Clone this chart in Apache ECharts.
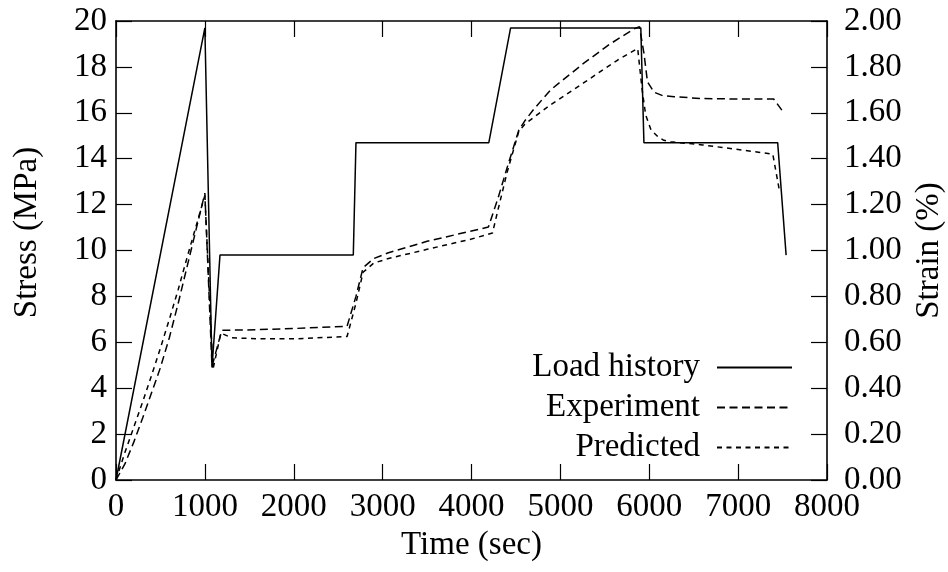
<!DOCTYPE html>
<html>
<head>
<meta charset="utf-8">
<title>Stress and strain history</title>
<script src="https://cdn.jsdelivr.net/npm/echarts@6/dist/echarts.min.js"></script>
<style>
  html, body { margin: 0; padding: 0; background: #fff; }
  #chart { width: 948px; height: 572px; }
</style>
</head>
<body>
<div id="chart"></div>
<script>
// Applied stress (MPa) against time (sec)
const loadTime   = [0, 1000, 1080, 1170, 2670, 2700, 4195, 4440, 5905, 5940, 7445, 7540];
const loadStress = [0, 19.7, 4.9, 9.8, 9.8, 14.7, 14.7, 19.7, 19.7, 14.7, 14.7, 9.8];

// Measured strain (%)
const expTime   = [0, 100, 200, 300, 400, 500, 600, 700, 800, 900, 1000, 1080, 1190, 1600, 2000, 2600,
                   2700, 2780, 2900, 3065, 3500, 4000, 4190, 4300, 4400, 4533, 4600, 4700, 4890, 5260,
                   5540, 5825, 5890, 5940, 5980, 6053, 6150, 6280, 6600, 7000, 7400, 7495];
const expStrain = [0, 0.07, 0.165, 0.27, 0.38, 0.49, 0.62, 0.77, 0.93, 1.09, 1.25, 0.495, 0.652, 0.655, 0.66, 0.67,
                   0.80, 0.925, 0.965, 0.99, 1.04, 1.085, 1.102, 1.23, 1.36, 1.525, 1.565, 1.615, 1.70, 1.815,
                   1.895, 1.965, 1.975, 1.86, 1.735, 1.69, 1.675, 1.67, 1.662, 1.66, 1.66, 1.61];

// Model strain (%)
const predTime   = [0, 100, 200, 300, 400, 500, 600, 700, 800, 900, 1000, 1090, 1180, 1300, 1600, 2000, 2600,
                    2700, 2780, 2900, 3065, 3500, 4000, 4236, 4300, 4400, 4533, 4600, 4700, 4890, 5260,
                    5645, 5870, 5920, 5960, 6020, 6100, 6165, 6240, 6600, 7000, 7390, 7465];
const predStrain = [0, 0.12, 0.23, 0.34, 0.455, 0.575, 0.70, 0.83, 0.97, 1.105, 1.24, 0.48, 0.64, 0.62, 0.615, 0.615, 0.625,
                    0.77, 0.905, 0.945, 0.965, 1.005, 1.05, 1.076, 1.18, 1.34, 1.52, 1.55, 1.58, 1.635, 1.73,
                    1.83, 1.88, 1.70, 1.59, 1.525, 1.495, 1.48, 1.474, 1.46, 1.44, 1.42, 1.26];

const timeTicks   = [0, 8000, 1000];   // min, max, step
const stressTicks = [0, 20, 2];
const strainTicks = [0, 2, 0.2];

const seriesNames = ['Load history', 'Experiment', 'Predicted'];

const pairs = (xs, ys) => xs.map((x, i) => [x, ys[i]]);

const FONT = '"Liberation Serif", "DejaVu Serif", serif';
const FS = 33;
const black = '#000';
const tickStyle = { inside: true, length: 16, lineStyle: { color: black, width: 1.2 } };
const lineAxis = { show: true, onZero: false, lineStyle: { color: black, width: 1.6 } };
const labelStyle = { fontFamily: FONT, fontSize: FS, color: black };

const chart = echarts.init(document.getElementById('chart'), null, { renderer: 'canvas' });

chart.setOption({
  animation: false,
  backgroundColor: '#fff',
  grid: { left: 116, right: 121, top: 21, bottom: 92, containLabel: false, outerBoundsMode: 'none' },
  legend: {
    orient: 'vertical',
    right: 150,
    top: 346,
    align: 'right',
    selectedMode: false,
    itemWidth: 75,
    itemHeight: 14,
    itemGap: 7,
    // line sample only, no marker in the key
    itemStyle: { color: 'rgba(0,0,0,0)', borderColor: 'rgba(0,0,0,0)', borderWidth: 0, opacity: 0 },
    textStyle: { fontFamily: FONT, fontSize: FS, color: black, lineHeight: 33, padding: [0, 12, 0, 0] },
    data: seriesNames
  },
  xAxis: [
    {
      type: 'value', position: 'bottom',
      min: timeTicks[0], max: timeTicks[1], interval: timeTicks[2],
      name: 'Time (sec)', nameLocation: 'middle', nameGap: 42,
      nameTextStyle: labelStyle,
      axisLine: lineAxis, axisTick: tickStyle,
      axisLabel: Object.assign({ margin: 11, formatter: v => String(v) }, labelStyle),
      splitLine: { show: false }
    },
    {
      type: 'value', position: 'top',
      min: timeTicks[0], max: timeTicks[1], interval: timeTicks[2],
      axisLine: lineAxis, axisTick: tickStyle,
      axisLabel: { show: false },
      splitLine: { show: false }
    }
  ],
  yAxis: [
    {
      type: 'value', position: 'left',
      min: stressTicks[0], max: stressTicks[1], interval: stressTicks[2],
      name: 'Stress (MPa)', nameLocation: 'middle', nameGap: 72,
      nameTextStyle: Object.assign({ padding: [0, 0, 0, 36] }, labelStyle),
      axisLine: lineAxis, axisTick: tickStyle,
      axisLabel: Object.assign({ margin: 9 }, labelStyle),
      splitLine: { show: false }
    },
    {
      type: 'value', position: 'right',
      min: strainTicks[0], max: strainTicks[1], interval: strainTicks[2],
      name: 'Strain (%)', nameLocation: 'middle', nameGap: 84,
      nameTextStyle: labelStyle,
      axisLine: lineAxis, axisTick: tickStyle,
      axisLabel: Object.assign({ margin: 17, formatter: v => v.toFixed(2) }, labelStyle),
      splitLine: { show: false }
    }
  ],
  series: [
    {
      name: seriesNames[0], type: 'line', xAxisIndex: 0, yAxisIndex: 0,
      data: pairs(loadTime, loadStress),
      symbol: 'none', smooth: false,
      lineStyle: { color: black, width: 1.5, type: 'solid' },
      itemStyle: { color: black }
    },
    {
      name: seriesNames[1], type: 'line', xAxisIndex: 0, yAxisIndex: 1,
      data: pairs(expTime, expStrain),
      symbol: 'none', smooth: false,
      lineStyle: { color: black, width: 1.5, type: [8, 4.5] },
      itemStyle: { color: black }
    },
    {
      name: seriesNames[2], type: 'line', xAxisIndex: 0, yAxisIndex: 1,
      data: pairs(predTime, predStrain),
      symbol: 'none', smooth: false,
      lineStyle: { color: black, width: 1.5, type: [5, 4.5] },
      itemStyle: { color: black }
    }
  ]
});
</script>
</body>
</html>
